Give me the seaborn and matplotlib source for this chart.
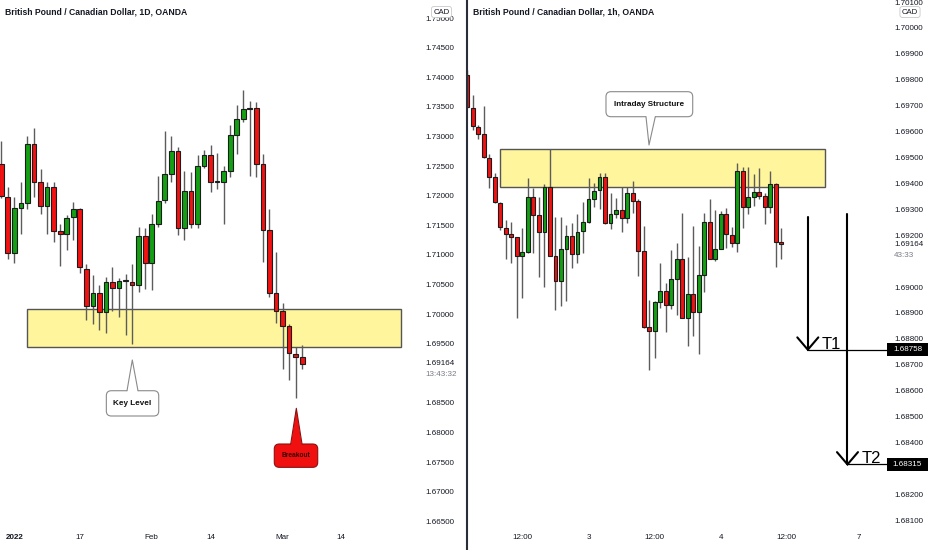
"""
GBP/CAD daily + 1h breakout chart (TradingView look), rebuilt with seaborn.

Left pane: daily candles breaking a key level.
Right pane: 1h candles under the intraday structure with T1 / T2 targets.
Saves out.png (932x550).
"""
import matplotlib
matplotlib.use("Agg")

import matplotlib.pyplot as plt
import matplotlib.transforms as mtransforms
import numpy as np
import seaborn as sns
from matplotlib.lines import Line2D
from matplotlib.patches import FancyBboxPatch, Polygon, Rectangle

W, H, DPI = 932, 550, 100

# ---- daily candles, oldest first (one per trading day)
D_OPEN = [1.7254, 1.7198, 1.7104, 1.7180, 1.7188, 1.7287, 1.7224, 1.7183, 1.7214, 1.7140,
          1.7136, 1.7164, 1.7177, 1.7077, 1.7014, 1.7035, 1.7003, 1.7055, 1.7044, 1.7056,
          1.7055, 1.7050, 1.7132, 1.7087, 1.7152, 1.7192, 1.7236, 1.7276, 1.7145, 1.7208,
          1.7152, 1.7251, 1.7268, 1.7223, 1.7223, 1.7241, 1.7302, 1.7329, 1.7346, 1.7349,
          1.7253, 1.7142, 1.7036, 1.7005, 1.6980, 1.6933, 1.6927]
D_HIGH = [1.7292, 1.7215, 1.7198, 1.7223, 1.7301, 1.7314, 1.7245, 1.7223, 1.7223, 1.7152,
          1.7167, 1.7189, 1.7180, 1.7085, 1.7066, 1.7050, 1.7063, 1.7079, 1.7061, 1.7068,
          1.7085, 1.7147, 1.7145, 1.7169, 1.7233, 1.7309, 1.7301, 1.7283, 1.7241, 1.7240,
          1.7268, 1.7278, 1.7286, 1.7272, 1.7251, 1.7319, 1.7353, 1.7379, 1.7360, 1.7359,
          1.7270, 1.7177, 1.7105, 1.7018, 1.6983, 1.6945, 1.6948]
D_LOW = [1.7196, 1.7093, 1.7087, 1.7135, 1.7177, 1.7198, 1.7169, 1.7136, 1.7122, 1.7082,
         1.7108, 1.7125, 1.7069, 1.6990, 1.6983, 1.6974, 1.6968, 1.7006, 1.6995, 1.6965,
         1.6950, 1.7038, 1.7042, 1.7041, 1.7147, 1.7187, 1.7223, 1.7134, 1.7126, 1.7145,
         1.7146, 1.7246, 1.7207, 1.7211, 1.7153, 1.7232, 1.7270, 1.7325, 1.7233, 1.7231,
         1.7088, 1.7029, 1.6985, 1.6907, 1.6888, 1.6858, 1.6908]
D_CLOSE = [1.7200, 1.7104, 1.7180, 1.7187, 1.7287, 1.7224, 1.7183, 1.7214, 1.7140, 1.7136,
           1.7162, 1.7177, 1.7079, 1.7014, 1.7035, 1.7003, 1.7055, 1.7044, 1.7056, 1.7056,
           1.7050, 1.7132, 1.7087, 1.7152, 1.7191, 1.7236, 1.7276, 1.7145, 1.7208, 1.7152,
           1.7251, 1.7268, 1.7223, 1.7223, 1.7241, 1.7302, 1.7329, 1.7346, 1.7349, 1.7253,
           1.7142, 1.7036, 1.7005, 1.6980, 1.6934, 1.6928, 1.6916]
D_XTICKS = [2, 12, 23, 32, 43, 52]
D_XLABELS = ["2022", "17", "Feb", "14", "Mar", "14"]
# 1.690 sits under the bar countdown, so it is not drawn
D_YTICKS = [1.665, 1.670, 1.675, 1.680, 1.685, 1.695, 1.700, 1.705, 1.710,
            1.715, 1.720, 1.725, 1.730, 1.735, 1.740, 1.745, 1.750]
KEY_ZONE = [1.69439, 1.70086]
KEY_ZONE_SPAN = [3.98, 61.1]

# ---- 1h candles, oldest first
H_OPEN = [1.69819, 1.69692, 1.69619, 1.69591, 1.69497, 1.69426, 1.69325, 1.69229, 1.69203, 1.69192,
          1.69121, 1.69136, 1.69349, 1.69278, 1.69214, 1.69387, 1.69120, 1.69023, 1.69146, 1.69197,
          1.69126, 1.69216, 1.69252, 1.69339, 1.69375, 1.69424, 1.69248, 1.69283, 1.69297, 1.69268,
          1.69364, 1.69333, 1.69140, 1.68844, 1.68831, 1.68941, 1.68986, 1.68931, 1.69031, 1.69108,
          1.68879, 1.68972, 1.68905, 1.69045, 1.69251, 1.69108, 1.69147, 1.69281, 1.69201, 1.69171,
          1.69449, 1.69310, 1.69346, 1.69368, 1.69350, 1.69308, 1.69398, 1.69173]
H_HIGH = [1.69838, 1.69741, 1.69625, 1.69699, 1.69514, 1.69439, 1.69329, 1.69259, 1.69252, 1.69194,
          1.69227, 1.69420, 1.69381, 1.69349, 1.69398, 1.69532, 1.69269, 1.69271, 1.69239, 1.69248,
          1.69282, 1.69329, 1.69420, 1.69400, 1.69439, 1.69439, 1.69362, 1.69342, 1.69385, 1.69385,
          1.69409, 1.69339, 1.69236, 1.68950, 1.68947, 1.69094, 1.69017, 1.69143, 1.69169, 1.69285,
          1.69117, 1.69236, 1.69158, 1.69287, 1.69340, 1.69297, 1.69293, 1.69304, 1.69230, 1.69480,
          1.69462, 1.69462, 1.69436, 1.69458, 1.69364, 1.69449, 1.69403, 1.69227]
H_LOW = [1.69691, 1.69606, 1.69570, 1.69497, 1.69381, 1.69325, 1.69220, 1.69107, 1.69094, 1.68879,
         1.68956, 1.69130, 1.69130, 1.69040, 1.68999, 1.69120, 1.68911, 1.68927, 1.68947, 1.69072,
         1.69092, 1.69130, 1.69246, 1.69310, 1.69300, 1.69242, 1.69223, 1.69265, 1.69214, 1.69248,
         1.69285, 1.69042, 1.68841, 1.68680, 1.68725, 1.68918, 1.68827, 1.68914, 1.68892, 1.68879,
         1.68772, 1.68811, 1.68741, 1.68982, 1.69108, 1.69102, 1.69146, 1.69149, 1.69156, 1.69136,
         1.69227, 1.69282, 1.69313, 1.69339, 1.69243, 1.69285, 1.69078, 1.69107]
H_CLOSE = [1.69696, 1.69622, 1.69591, 1.69501, 1.69426, 1.69327, 1.69230, 1.69203, 1.69193, 1.69121,
           1.69136, 1.69349, 1.69278, 1.69214, 1.69387, 1.69120, 1.69023, 1.69146, 1.69197, 1.69126,
           1.69214, 1.69252, 1.69339, 1.69372, 1.69424, 1.69248, 1.69282, 1.69297, 1.69265, 1.69364,
           1.69333, 1.69140, 1.68844, 1.68831, 1.68941, 1.68986, 1.68931, 1.69031, 1.69108, 1.68879,
           1.68972, 1.68905, 1.69045, 1.69251, 1.69108, 1.69147, 1.69281, 1.69203, 1.69171, 1.69449,
           1.69310, 1.69346, 1.69368, 1.69353, 1.69308, 1.69398, 1.69173, 1.69165]
H_XTICKS = [10, 22, 34, 46, 58, 71]
H_XLABELS = ["12:00", "3", "12:00", "4", "12:00", "7"]
# 1.691 hides under the countdown and 1.683 under the T2 price tag
H_YTICKS = [1.681, 1.682, 1.684, 1.685, 1.686, 1.687, 1.688, 1.689, 1.690,
            1.692, 1.693, 1.694, 1.695, 1.696, 1.697, 1.698, 1.699, 1.700, 1.701]
STRUCTURE_ZONE = [1.69387, 1.69533]
STRUCTURE_SPAN = [6.0, 65.0]

LAST_PRICE = 1.69164
COUNTDOWN = ["13:43:32", "43:33"]
TARGET_NAMES = ["T1", "T2"]
TARGET_PRICES = [1.68758, 1.68315]
TARGET_FROM = [1.6927, 1.6928]     # where each arrow starts
TARGET_X = [61.8, 69.0]            # hour index of each arrow

GREEN, RED = "#13a013", "#f21212"
EDGE, WICK = "#1c1c1c", "#5c5c5c"
ZONE_FILL, ZONE_EDGE = "#fff59d", "#555555"
TXT, MUTED = "#131722", "#787b86"

sns.set_theme(style="white")
plt.rcParams["font.family"] = ["Liberation Sans", "DejaVu Sans"]


def px_per_unit(ax):
    (x0, y0), (x1, y1) = ax.transData.transform([(0, 0), (1, 1)])
    return abs(x1 - x0), abs(y1 - y0)


def draw_candles(ax, o, h, l, c, width, min_body):
    o, h, l, c = map(np.asarray, (o, h, l, c))
    x = np.arange(len(o))
    ax.vlines(x, l, h, color=WICK, lw=1.0, zorder=3)
    colors = np.where(c >= o, GREEN, RED)
    body = np.maximum(np.abs(c - o), min_body)
    ax.bar(x, body, bottom=np.minimum(o, c), width=width, color=colors,
           edgecolor=EDGE, linewidth=0.8, zorder=4)


def draw_zone(ax, span, zone):
    ax.add_patch(Rectangle((span[0], zone[0]), span[1] - span[0], zone[1] - zone[0],
                           fc=ZONE_FILL, ec=ZONE_EDGE, lw=1.0, zorder=2))


def callout(ax, box, base, tip, text, face, edge, color, size):
    x0, x1, y0, y1 = box
    sx, sy = px_per_unit(ax)
    r = 5 / sx
    ax.add_patch(FancyBboxPatch((x0, y0), x1 - x0, y1 - y0,
                                boxstyle=f"round,pad=0,rounding_size={r}",
                                mutation_aspect=sx / sy, fc=face, ec=edge, lw=0.8, zorder=6))
    by = y1 if tip[1] > y1 else y0
    inset = (1.5 / sy) * (-1 if by == y1 else 1)
    ax.add_patch(Polygon([(base[0], by + inset), tip, (base[1], by + inset)],
                         closed=True, fc=face, ec="none", zorder=7))
    ax.plot([base[0], tip[0], base[1]], [by, tip[1], by], color=edge, lw=0.8, zorder=8)
    ax.text((x0 + x1) / 2, (y0 + y1) / 2, text, ha="center", va="center",
            fontsize=size, fontweight="bold", color=color, zorder=9)


def style_axis(ax, xticks, xlabels, yticks, pad):
    for s in ax.spines.values():
        s.set_visible(False)
    ax.yaxis.tick_right()
    ax.set_yticks(yticks)
    ax.set_yticklabels([f"{v:.5f}" for v in yticks])
    ax.set_xticks(xticks)
    ax.set_xticklabels(xlabels)
    ax.tick_params(axis="y", length=0, pad=pad, labelsize=5.8, labelcolor=TXT)
    ax.tick_params(axis="x", length=0, pad=5, labelsize=5.8, labelcolor=TXT)
    ax.grid(False)
    ax.set_facecolor("white")


def main():
    fig = plt.figure(figsize=(W / DPI, H / DPI), dpi=DPI)
    fig.patch.set_facecolor("white")

    # ---------------- daily pane
    axd = fig.add_axes([0, 23 / H, 420 / W, 527 / H])
    axd.set_xlim(-0.2, 64.02)
    axd.set_ylim(1.66404, 1.75306)
    style_axis(axd, D_XTICKS, D_XLABELS, D_YTICKS, pad=3.6)
    axd.get_xticklabels()[0].set_fontweight("bold")
    draw_zone(axd, KEY_ZONE_SPAN, KEY_ZONE)
    draw_candles(axd, D_OPEN, D_HIGH, D_LOW, D_CLOSE, 0.72, 0.00012)
    callout(axd, (16.06, 24.07, 1.68279, 1.68706), (19.22, 20.9), (20.03, 1.69225),
            "Key Level", "white", "#8a8a8a", "#111111", 5.9)
    callout(axd, (41.74, 48.38, 1.67412, 1.67806), (44.25, 45.98), (45.11, 1.68409),
            "Breakout", "#f01010", "#8c1010", "#3a0000", 4.8)

    # ---------------- hourly pane
    axh = fig.add_axes([467 / W, 23 / H, 419 / W, 527 / H])
    axh.set_xlim(-0.054, 75.99)
    axh.set_ylim(1.680734, 1.701081)
    style_axis(axh, H_XTICKS, H_XLABELS, H_YTICKS, pad=5.8)
    draw_zone(axh, STRUCTURE_SPAN, STRUCTURE_ZONE)
    draw_candles(axh, H_OPEN, H_HIGH, H_LOW, H_CLOSE, 0.7, 0.00003)
    callout(axh, (25.17, 40.91, 1.696575, 1.697541), (32.43, 34.12), (32.98, 1.695483),
            "Intraday Structure", "white", "#8a8a8a", "#111111", 5.9)

    # target arrows with price tags on the scale
    sx, sy = px_per_unit(axh)
    xmax = axh.get_xlim()[1] + 1 / sx
    tr = mtransforms.blended_transform_factory(axh.transAxes, axh.transData)
    for name, price, start, x in zip(TARGET_NAMES, TARGET_PRICES, TARGET_FROM, TARGET_X):
        axh.plot([x, x], [start, price], color="black", lw=1.5, zorder=5)
        hw, hh = 10.5 / sx, 12.3 / sy
        axh.plot([x - hw, x, x + hw], [price + hh, price, price + hh],
                 color="black", lw=1.5, zorder=5, solid_joinstyle="miter")
        axh.plot([x, xmax], [price, price], color="black", lw=0.9, zorder=5, clip_on=False)
        axh.text(x + 14 / sx, price + 1 / sy, name, fontsize=12, color="black",
                 ha="left", va="baseline", zorder=6)
        axh.add_patch(Rectangle((1.0024, price - 6.3 / sy), 0.0978, 12.6 / sy,
                                transform=tr, fc="black", ec="none", zorder=10, clip_on=False))
        axh.text(1.0513, price, f"{price:.5f}", transform=tr, fontsize=5.8, color="white",
                 ha="center", va="center", zorder=11, clip_on=False)

    # last price + bar countdown on both scales
    for ax, pad_px, cd in ((axd, 5, COUNTDOWN[0]), (axh, 8, COUNTDOWN[1])):
        btr = mtransforms.blended_transform_factory(ax.transAxes, ax.transData)
        ax.annotate(f"{LAST_PRICE:.5f}", xy=(1, LAST_PRICE), xycoords=btr,
                    xytext=(pad_px, 0), textcoords="offset pixels", fontsize=5.8,
                    color=TXT, ha="left", va="center", annotation_clip=False)
        ax.annotate(cd, xy=(1, LAST_PRICE), xycoords=btr, xytext=(pad_px, -11),
                    textcoords="offset pixels", fontsize=5.8, color=MUTED,
                    ha="left", va="center", annotation_clip=False)

    # headers, currency badges, pane divider
    fig.text(5 / W, 1 - 12 / H, "British Pound / Canadian Dollar, 1D, OANDA",
             fontsize=6.2, fontweight="bold", color=TXT, ha="left", va="center")
    fig.text(473 / W, 1 - 12 / H, "British Pound / Canadian Dollar, 1h, OANDA",
             fontsize=6.2, fontweight="bold", color=TXT, ha="left", va="center")
    for cx in (441.5, 910):
        fig.text(cx / W, 1 - 12 / H, "CAD", fontsize=5.6, color=TXT, ha="center", va="center",
                 zorder=20, bbox=dict(boxstyle="round,pad=0.25,rounding_size=0.3",
                                      fc="white", ec="#c8c8c8", lw=0.6))
    fig.add_artist(Line2D([466.5 / W, 466.5 / W], [0, 1], transform=fig.transFigure,
                          color="#2a2e39", lw=1.5, zorder=30))

    fig.savefig("out.png", dpi=DPI, facecolor="white")
    plt.close(fig)


if __name__ == "__main__":
    main()
